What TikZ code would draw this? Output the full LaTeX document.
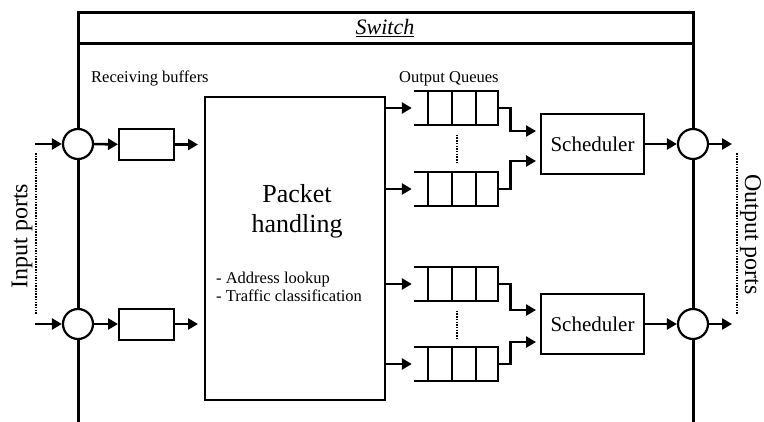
\documentclass[tikz,border=0pt]{standalone}
\usepackage{fontspec}
\setmainfont{Liberation Serif}
\usetikzlibrary{arrows.meta,positioning}
\tikzset{
  frame/.style={line width=3pt},
  box/.style={draw, line width=2pt, inner sep=0pt},
  port/.style={draw, circle, fill=white, line width=2.2pt, minimum size=30pt, inner sep=0pt},
  queue/.style={inner sep=0pt, minimum width=84pt, minimum height=33pt},
  arr/.style={line width=2.6pt, -{Triangle[length=10pt,width=11pt]}},
  dots/.style={line width=2.8pt, dash pattern=on 1.5pt off 1.2pt},
}
\begin{document}
\begin{tikzpicture}[x=1pt,y=-1pt]
\useasboundingbox (0,0) rectangle (764,421);

\draw[frame] (78,425) -- (78,12) -- (693,12) -- (693,425);
\draw[frame] (78,43) -- (693,43);
\node[anchor=base, font=\fontsize{22}{26}\selectfont] (title) at (385,34.5) {\underline{\textit{Switch}}};

\node[anchor=base west, inner sep=0pt, font=\fontsize{16.5}{19}\selectfont] (rbtxt) at (91,82) {Receiving buffers};
\node[anchor=base west, inner sep=0pt, font=\fontsize{16.5}{19}\selectfont] (oqtxt) at (399,82) {Output Queues};

\node[port] (in1) at (78,144) {};
\node[port] (in2) at (78,324) {};
\node[box, minimum width=55pt, minimum height=31pt] (buf1) at (146.5,144.5) {};
\node[box, minimum width=55pt, minimum height=31pt] (buf2) at (146.5,324) {};
\node[box, minimum width=180pt, minimum height=303pt] (pkt) at (295,248.5) {};
\node[align=center, inner sep=0pt, font=\fontsize{26}{30}\selectfont] (pkttxt) at (297,211) {Packet\\handling};
\node[anchor=west, align=left, inner sep=0pt, font=\fontsize{16.5}{18}\selectfont] (pktlist) at (216,287) {- Address lookup\\- Traffic classification};

\coordinate (is1) at (35,144);
\coordinate (is2) at (35,324);
\draw[arr] (is1) -- (in1);
\draw[arr] (is2) -- (in2);
\draw[arr] (in1) -- (buf1);
\draw[arr] (in2) -- (buf2);
\draw[arr, shorten >=6pt] (buf1.east) -- (pkt.west |- buf1.east);
\draw[arr, shorten >=6pt] (buf2.east) -- (pkt.west |- buf2.east);

\coordinate (id1) at (36,153);
\coordinate (id2) at (36,315);
\draw[dots] (id1) -- (id2);
\node[rotate=90, font=\fontsize{24}{28}\selectfont] (inports) at (22,236) {Input ports};

\foreach \n/\y in {q1/108,q2/189,q3/284,q4/364} {
  \node[queue] (\n) at (456,\y) {};
  \draw[box] (\n.north west) -- (\n.north east) -- (\n.south east) -- (\n.south west);
  \foreach \dx in {14,38,62}
    \draw[box] ([xshift=\dx pt]\n.north west) -- ([xshift=\dx pt]\n.south west);
  \draw[arr, shorten >=2pt] (pkt.east |- \n.west) -- (\n.west);
}
\draw[dots, shorten <=10pt, shorten >=9pt] ([xshift=1pt]q1.south) -- ([xshift=1pt]q2.north);
\draw[dots, shorten <=10pt, shorten >=9pt] ([xshift=1pt]q3.south) -- ([xshift=1pt]q4.north);

\node[box, minimum width=103pt, minimum height=60pt, font=\fontsize{21}{24}\selectfont] (s1) at (592.5,144) {Scheduler};
\node[box, minimum width=103pt, minimum height=60pt, font=\fontsize{21}{24}\selectfont] (s2) at (592.5,324) {Scheduler};

\draw[arr, shorten >=4pt] (q1.east) -- ++(12,0) |- ([yshift=13pt]s1.west);
\draw[arr, shorten >=4pt] (q2.east) -- ++(12,0) |- ([yshift=-17pt]s1.west);
\draw[arr, shorten >=4pt] (q3.east) -- ++(12,0) |- ([yshift=14pt]s2.west);
\draw[arr, shorten >=4pt] (q4.east) -- ++(12,0) |- ([yshift=-18pt]s2.west);

\node[port] (out1) at (693,144) {};
\node[port] (out2) at (693,324) {};
\draw[arr] (s1) -- (out1);
\draw[arr] (s2) -- (out2);
\coordinate (oe1) at (732,144);
\coordinate (oe2) at (732,324);
\draw[arr] (out1) -- (oe1);
\draw[arr] (out2) -- (oe2);

\coordinate (od1) at (737,153);
\coordinate (od2) at (737,315);
\draw[dots] (od1) -- (od2);
\node[rotate=-90, font=\fontsize{24}{28}\selectfont] (outports) at (750.5,234.5) {Output ports};
\end{tikzpicture}
\end{document}
